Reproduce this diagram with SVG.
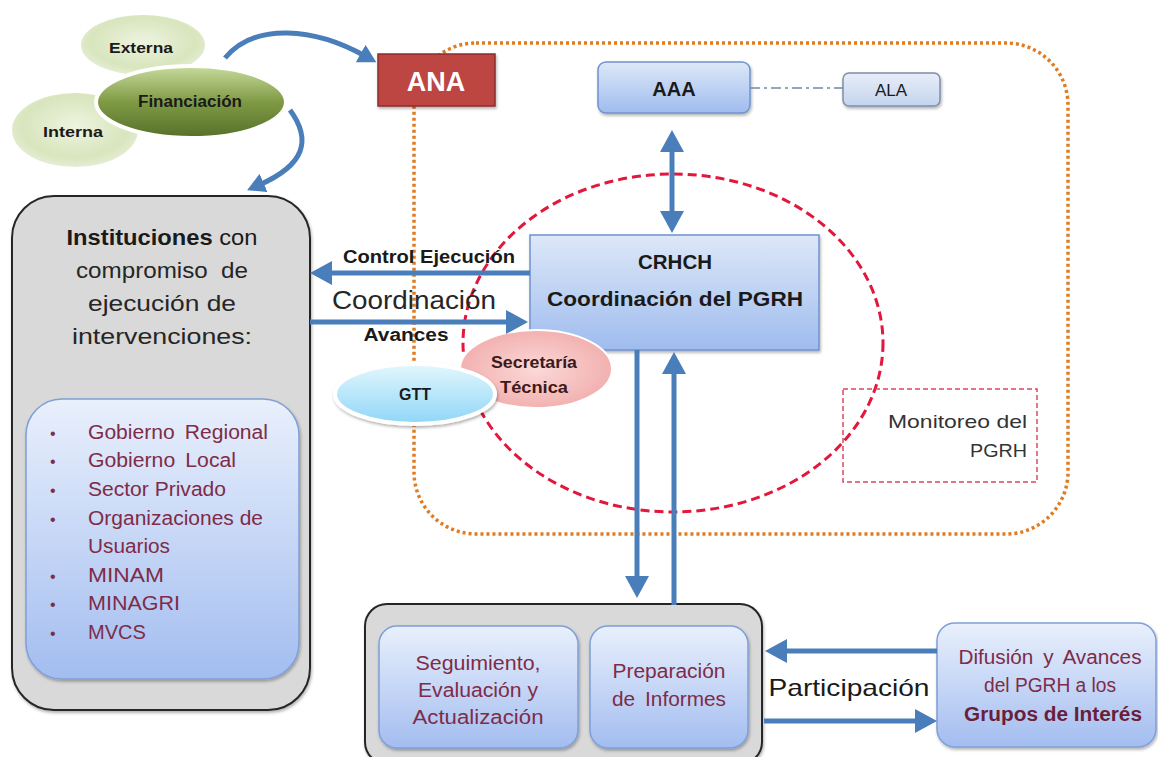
<svg xmlns="http://www.w3.org/2000/svg" width="1158" height="757" viewBox="0 0 1158 757">
<style>
text{font-family:"Liberation Sans","DejaVu Sans",sans-serif}
.conn{fill:none;stroke:#4a7ebb;stroke-width:5}
.dark{fill:#1a1a1a}
.mar{fill:#7e2c48}
.bold{font-weight:bold}
.gray{fill:#d9d9d9;stroke:#262626;stroke-width:2}
.blue{fill:url(#gBlue);stroke:#7f9fd6;stroke-width:1.5}
</style>
<defs>
<marker id="ah" viewBox="0 0 22 24" markerUnits="userSpaceOnUse" markerWidth="22" markerHeight="24" refX="6" refY="12" orient="auto-start-reverse"><path d="M0,0 L22,12 L0,24 z" fill="#4a7ebb"/></marker>
<marker id="ahs" viewBox="0 0 18 20" markerUnits="userSpaceOnUse" markerWidth="18" markerHeight="20" refX="5" refY="10" orient="auto"><path d="M0,0 L18,10 L0,20 z" fill="#4a7ebb"/></marker>
<linearGradient id="gBlue" x1="0" y1="0" x2="0" y2="1"><stop offset="0" stop-color="#e9f0fc"/><stop offset="1" stop-color="#a3bdf0"/></linearGradient>
<linearGradient id="gCr" x1="0" y1="0" x2="0" y2="1"><stop offset="0" stop-color="#dde8f8"/><stop offset="1" stop-color="#9fbcee"/></linearGradient>
<linearGradient id="gAla" x1="0" y1="0" x2="0" y2="1"><stop offset="0" stop-color="#e8eef8"/><stop offset="1" stop-color="#c3d3ee"/></linearGradient>
<linearGradient id="gFin" x1="0" y1="0" x2="0" y2="1"><stop offset="0" stop-color="#c9db9e"/><stop offset="0.5" stop-color="#7f9a44"/><stop offset="1" stop-color="#56702a"/></linearGradient>
<radialGradient id="gLg" cx="0.5" cy="0.45" r="0.6"><stop offset="0" stop-color="#eef4e0"/><stop offset="0.7" stop-color="#d8e5bd"/><stop offset="1" stop-color="#e9f0dc"/></radialGradient>
<radialGradient id="gPk" cx="0.5" cy="0.5" r="0.6"><stop offset="0" stop-color="#fbd9d8"/><stop offset="1" stop-color="#f0a9a8"/></radialGradient>
<linearGradient id="gCy" x1="0" y1="0" x2="0" y2="1"><stop offset="0" stop-color="#e3f7fd"/><stop offset="1" stop-color="#8fd6f7"/></linearGradient>
<filter id="sh" x="-10%" y="-10%" width="130%" height="130%"><feDropShadow dx="1" dy="2" stdDeviation="1.5" flood-color="#000" flood-opacity="0.3"/></filter>
</defs>
<rect width="1158" height="757" fill="#fff"/>

<g id="frames">
<rect x="414" y="43" width="654" height="491" rx="62" fill="none" stroke="#e07b22" stroke-width="3.5" stroke-dasharray="3 3"/>
<ellipse cx="673" cy="343" rx="210" ry="169" fill="none" stroke="#e2173b" stroke-width="3" stroke-dasharray="9 5"/>
</g>

<g id="monitoreo">
<rect x="843" y="389" width="194" height="93" fill="none" stroke="#d9475f" stroke-width="1.5" stroke-dasharray="5 3"/>
<text x="1027" y="428" text-anchor="end" font-size="19" fill="#333" textLength="139" lengthAdjust="spacingAndGlyphs">Monitoreo del</text>
<text x="1027" y="457" text-anchor="end" font-size="19" fill="#333" textLength="57" lengthAdjust="spacingAndGlyphs">PGRH</text>
</g>

<g id="externa">
<ellipse cx="143" cy="45" rx="62" ry="30" fill="url(#gLg)"/>
<text x="141" y="53" text-anchor="middle" font-size="15" class="dark bold" textLength="64" lengthAdjust="spacingAndGlyphs">Externa</text>
</g>
<g id="interna">
<ellipse cx="75" cy="130" rx="63" ry="37" fill="url(#gLg)"/>
<text x="73" y="137" text-anchor="middle" font-size="15" class="dark bold" textLength="60" lengthAdjust="spacingAndGlyphs">Interna</text>
</g>
<g id="financiacion">
<ellipse cx="191" cy="102" rx="95" ry="36" fill="url(#gFin)" stroke="#fff" stroke-width="4"/>
<text x="190" y="107" text-anchor="middle" font-size="16" class="dark bold" textLength="104" lengthAdjust="spacingAndGlyphs">Financiación</text>
</g>

<g id="ana">
<rect x="378" y="54" width="117" height="52" fill="#bd4543" stroke="#8c2d2b" stroke-width="1.5" filter="url(#sh)"/>
<text x="436" y="91" text-anchor="middle" font-size="27" font-weight="bold" fill="#fff">ANA</text>
</g>
<g id="aaa">
<rect x="598" y="62" width="152" height="51" rx="8" fill="url(#gCr)" stroke="#6f93cf" stroke-width="1.5" filter="url(#sh)"/>
<text x="674" y="96" text-anchor="middle" font-size="20" class="dark bold">AAA</text>
</g>
<g id="ala">
<rect x="843" y="73" width="97" height="33" rx="6" fill="url(#gAla)" stroke="#7f8fa8" stroke-width="1.5" filter="url(#sh)"/>
<text x="891" y="96" text-anchor="middle" font-size="17" class="dark">ALA</text>
</g>

<g id="crhch">
<rect x="530" y="235" width="289" height="115" fill="url(#gCr)" stroke="#6f93cf" stroke-width="1.5" filter="url(#sh)"/>
<text x="675" y="269" text-anchor="middle" font-size="21" class="dark bold" textLength="74" lengthAdjust="spacingAndGlyphs">CRHCH</text>
<text x="675" y="306" text-anchor="middle" font-size="21" class="dark bold" textLength="256" lengthAdjust="spacingAndGlyphs">Coordinación del PGRH</text>
</g>

<g id="secretaria">
<ellipse cx="536" cy="369" rx="76" ry="39" fill="url(#gPk)" stroke="#fff" stroke-width="2"/>
<text x="534" y="368" text-anchor="middle" font-size="16" font-weight="bold" fill="#3a1a1a" textLength="86" lengthAdjust="spacingAndGlyphs">Secretaría</text>
<text x="534" y="393" text-anchor="middle" font-size="16" font-weight="bold" fill="#3a1a1a" textLength="68" lengthAdjust="spacingAndGlyphs">Técnica</text>
</g>
<g id="gtt">
<ellipse cx="415" cy="394" rx="80" ry="30" fill="url(#gCy)" stroke="#fff" stroke-width="4" filter="url(#sh)"/>
<text x="415" y="400" text-anchor="middle" font-size="16" class="dark bold">GTT</text>
</g>

<g id="instituciones">
<rect x="12" y="196" width="298" height="514" rx="42" class="gray" filter="url(#sh)"/>
<text x="162" y="245" text-anchor="middle" font-size="22" fill="#1a1a1a" textLength="191" lengthAdjust="spacingAndGlyphs"><tspan font-weight="bold">Instituciones</tspan> con</text>
<text x="162" y="278" text-anchor="middle" font-size="22" fill="#262626" word-spacing="6" textLength="172" lengthAdjust="spacingAndGlyphs">compromiso de</text>
<text x="162" y="311" text-anchor="middle" font-size="22" fill="#262626" textLength="148" lengthAdjust="spacingAndGlyphs">ejecución de</text>
<text x="162" y="344" text-anchor="middle" font-size="22" fill="#262626" textLength="180" lengthAdjust="spacingAndGlyphs">intervenciones:</text>
</g>
<g id="lista">
<rect x="26" y="399" width="273" height="280" rx="36" class="blue" filter="url(#sh)"/>
<g font-size="20" class="mar">
<text x="50" y="439" font-size="16">•</text><text x="88" y="439" textLength="180" lengthAdjust="spacingAndGlyphs" word-spacing="4">Gobierno Regional</text>
<text x="50" y="467" font-size="16">•</text><text x="88" y="467" textLength="148" lengthAdjust="spacingAndGlyphs" word-spacing="4">Gobierno Local</text>
<text x="50" y="496" font-size="16">•</text><text x="88" y="496" textLength="138" lengthAdjust="spacingAndGlyphs">Sector Privado</text>
<text x="50" y="525" font-size="16">•</text><text x="88" y="525" textLength="175" lengthAdjust="spacingAndGlyphs">Organizaciones de</text>
<text x="88" y="553" textLength="82" lengthAdjust="spacingAndGlyphs">Usuarios</text>
<text x="50" y="582" font-size="16">•</text><text x="88" y="582" textLength="76" lengthAdjust="spacingAndGlyphs">MINAM</text>
<text x="50" y="610" font-size="16">•</text><text x="88" y="610" textLength="92" lengthAdjust="spacingAndGlyphs">MINAGRI</text>
<text x="50" y="639" font-size="16">•</text><text x="88" y="639" textLength="58" lengthAdjust="spacingAndGlyphs">MVCS</text>
</g>
</g>

<g id="informes">
<rect x="365" y="604" width="397" height="160" rx="22" class="gray" filter="url(#sh)"/>
</g>
<g id="seguimiento">
<rect x="379" y="626" width="199" height="122" rx="18" class="blue" filter="url(#sh)"/>
<text x="478" y="670" text-anchor="middle" font-size="20" class="mar" textLength="125" lengthAdjust="spacingAndGlyphs">Seguimiento,</text>
<text x="478" y="697" text-anchor="middle" font-size="20" class="mar" textLength="120" lengthAdjust="spacingAndGlyphs">Evaluación y</text>
<text x="478" y="724" text-anchor="middle" font-size="20" class="mar" textLength="131" lengthAdjust="spacingAndGlyphs">Actualización</text>
</g>
<g id="preparacion">
<rect x="590" y="626" width="158" height="122" rx="18" class="blue" filter="url(#sh)"/>
<text x="669" y="678" text-anchor="middle" font-size="20" class="mar" textLength="113" lengthAdjust="spacingAndGlyphs">Preparación</text>
<text x="669" y="706" text-anchor="middle" font-size="20" class="mar" word-spacing="4" textLength="114" lengthAdjust="spacingAndGlyphs">de Informes</text>
</g>
<g id="difusion">
<rect x="937" y="623" width="219" height="124" rx="18" class="blue" filter="url(#sh)"/>
<text x="1050" y="664" text-anchor="middle" font-size="20" class="mar" word-spacing="4" textLength="183" lengthAdjust="spacingAndGlyphs">Difusión y Avances</text>
<text x="1050" y="692" text-anchor="middle" font-size="20" class="mar" textLength="132" lengthAdjust="spacingAndGlyphs">del PGRH a los</text>
<text x="1053" y="721" text-anchor="middle" font-size="20" font-weight="bold" fill="#6a1e3a" textLength="178" lengthAdjust="spacingAndGlyphs">Grupos de Interés</text>
</g>

<g id="connectors">
<path class="conn" d="M225,58 C255,22 315,28 365,56" marker-end="url(#ahs)"/>
<path class="conn" d="M290,110 C312,140 305,165 259,185" marker-end="url(#ahs)"/>
<line x1="750" y1="88" x2="843" y2="88" stroke="#6f8aa8" stroke-width="1.5" stroke-dasharray="10 4 3 4"/>
<path class="conn" d="M672,146 L672,217" marker-start="url(#ah)" marker-end="url(#ah)"/>
<path class="conn" d="M530,273 L326,273" marker-end="url(#ah)"/>
<path class="conn" d="M310,322 L512,322" marker-end="url(#ah)"/>
<path class="conn" d="M637,350 L637,582" marker-end="url(#ah)"/>
<path class="conn" d="M674,605 L674,368" marker-end="url(#ah)"/>
<path class="conn" d="M937,651 L781,651" marker-end="url(#ah)"/>
<path class="conn" d="M764,721 L921,721" marker-end="url(#ah)"/>
<text x="429" y="263" text-anchor="middle" font-size="18" class="dark bold" textLength="172" lengthAdjust="spacingAndGlyphs">Control Ejecución</text>
<text x="414" y="309" text-anchor="middle" font-size="25" fill="#262626" textLength="164" lengthAdjust="spacingAndGlyphs">Coordinación</text>
<text x="406" y="341" text-anchor="middle" font-size="18" class="dark bold" textLength="85" lengthAdjust="spacingAndGlyphs">Avances</text>
<text x="849" y="696" text-anchor="middle" font-size="24" fill="#1a1a1a" textLength="161" lengthAdjust="spacingAndGlyphs">Participación</text>
</g>
</svg>
